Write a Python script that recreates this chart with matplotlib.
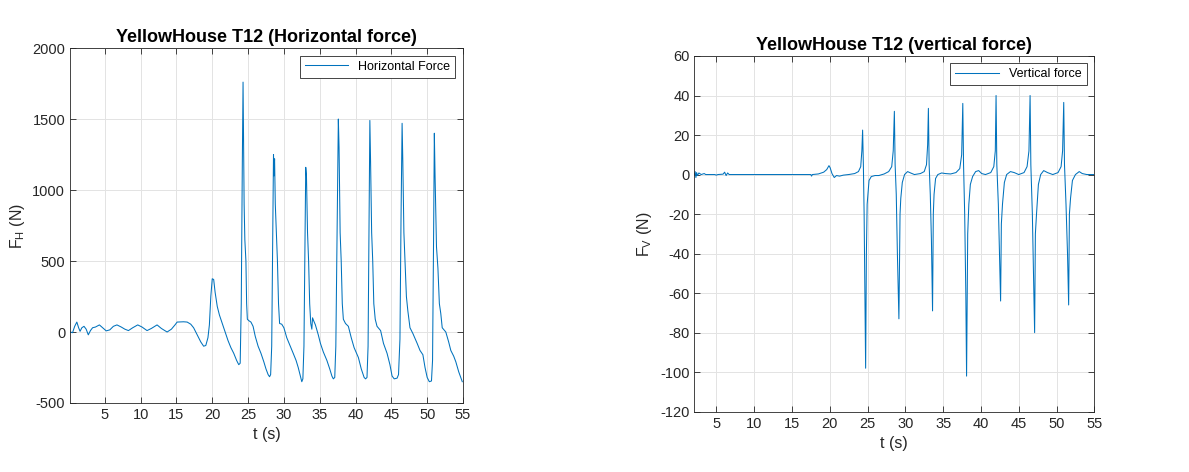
import matplotlib
matplotlib.use("Agg")
import matplotlib.pyplot as plt

# Horizontal force trace, t in s, F in N
h_time = [0.2, 0.5, 0.8, 1.1, 1.35, 1.55, 1.8, 2.1, 2.4, 2.7, 3.0, 3.3, 3.7, 4.25,
          4.7, 5.2, 5.7, 6.2, 6.7, 7.3, 7.8, 8.3, 8.9, 9.6, 10.2, 10.9, 11.5, 12.3,
          12.9, 13.7, 14.3, 14.8, 15.1, 16.0, 16.5, 17.0, 17.4, 17.9, 18.4, 18.8,
          19.1, 19.4, 19.6, 19.8, 20.0, 20.2, 20.4, 20.7, 21.0, 21.4, 21.8, 22.2,
          22.6, 23.0, 23.4, 23.7, 23.9, 24.05, 24.2, 24.3,
          24.35, 24.45, 24.55, 24.7, 24.8, 24.9, 25.1, 25.4, 25.7, 26.0, 26.4, 26.8,
          27.2, 27.5, 27.8, 28.0, 28.15, 28.3, 28.45, 28.55, 28.62, 28.7,
          28.8, 28.95, 29.1, 29.25, 29.4, 29.7, 30.0, 30.4, 30.9, 31.3, 31.7, 32.0,
          32.3, 32.5, 32.65, 32.8, 32.95, 33.05, 33.15,
          33.3, 33.45, 33.6, 33.75, 33.9, 34.0, 34.15, 34.4, 34.8, 35.1, 35.5, 36.0,
          36.4, 36.7, 36.9, 37.1, 37.25, 37.45, 37.6,
          37.7, 37.85, 38.0, 38.15, 38.3, 38.6, 39.0, 39.4, 39.8, 40.4, 40.8, 41.2,
          41.4, 41.6, 41.75, 41.9, 42.0,
          42.1, 42.25, 42.4, 42.55, 42.75, 43.0, 43.5, 43.9, 44.4, 44.8, 45.1, 45.4,
          45.8, 46.0, 46.2, 46.35, 46.5,
          46.6, 46.75, 46.9, 47.1, 47.3, 47.6, 48.0, 48.6, 49.0, 49.4, 49.7, 50.0,
          50.3, 50.6, 50.75, 50.9, 51.0,
          51.1, 51.3, 51.5, 51.7, 51.9, 52.1, 52.6, 53.0, 53.3, 53.7, 54.0, 54.4, 54.9]
h_force = [0, -5, 40, 70, 30, 5, 30, 40, 20, -20, 10, 30, 35, 50,
           30, 8, 15, 40, 50, 35, 20, 10, 30, 50, 35, 10, 25, 50,
           25, 0, 20, 50, 70, 72, 70, 55, 30, -20, -70, -100,
           -95, -40, 50, 250, 375, 370, 280, 180, 120, 60, 0, -60,
           -110, -150, -200, -230, -220, 200, 1200, 1760,
           1500, 900, 650, 500, 200, 90, 80, 70, 40, -30, -100, -150,
           -210, -260, -300, -315, -300, -100, 700, 1250, 1100, 1220,
           900, 700, 500, 200, 60, 55, 30, -40, -100, -150, -200, -250,
           -310, -350, -330, -100, 700, 1160, 1100,
           700, 500, 200, 60, 20, 100, 80, 50, -20, -80, -140, -200,
           -260, -310, -330, -320, -100, 800, 1500,
           1300, 700, 500, 200, 90, 60, 40, -40, -110, -180, -260, -320,
           -330, -320, -100, 900, 1490,
           1200, 700, 500, 200, 90, 40, 10, -80, -150, -230, -310, -330,
           -325, -300, -50, 800, 1470,
           1200, 700, 500, 250, 150, 30, -10, -80, -130, -160, -250, -320,
           -350, -345, -200, 700, 1400,
           1100, 600, 450, 200, 130, 30, 0, -70, -130, -170, -210, -280, -350]

# Vertical force trace
v_time = [2.1, 2.2, 2.3, 2.4, 2.5, 2.7, 3.0, 3.4, 3.6, 4.8, 5.0, 5.2, 5.9, 6.1,
          6.3, 6.5, 6.7, 17.5, 17.6, 17.7, 18.5, 19.2, 19.6, 19.9, 20.05, 20.3,
          20.6, 20.9, 21.3, 21.8, 22.5, 23.3, 23.8, 24.1, 24.25, 24.35,
          24.45, 24.55, 24.65, 24.75, 24.85, 24.95, 25.05, 25.2, 25.5, 26.0, 26.5,
          27.2, 27.8, 28.2, 28.4, 28.55,
          28.65, 28.8, 28.95, 29.15, 29.3, 29.4, 29.6, 29.9, 30.3, 30.7, 31.2,
          32.0, 32.5, 32.8, 32.95, 33.05,
          33.15, 33.3, 33.45, 33.6, 33.7, 33.8, 34.0, 34.3, 34.8, 35.3, 36.0,
          36.7, 37.2, 37.45, 37.6,
          37.7, 37.85, 38.0, 38.1, 38.25, 38.4, 38.6, 38.9, 39.3, 39.7, 40.1, 40.6,
          41.3, 41.7, 41.9, 42.0,
          42.1, 42.3, 42.45, 42.6, 42.7, 42.85, 43.1, 43.4, 43.9, 44.4, 45.0,
          45.7, 46.1, 46.35, 46.5,
          46.6, 46.8, 46.95, 47.1, 47.2, 47.35, 47.6, 47.9, 48.3, 48.8, 49.5,
          50.2, 50.6, 50.8, 50.95,
          51.05, 51.25, 51.45, 51.6, 51.7, 51.85, 52.1, 52.5, 53.0, 53.4, 54.0, 55.0]
v_force = [0, 1.5, -1.5, 1.0, -0.5, 0.8, 0, 0.5, 0, 0, -0.3, 0, 0.2, 1.2,
           -0.5, 0.8, 0, 0, -0.8, 0, 0.3, 1.2, 2.5, 4.5, 3.5, 0.5,
           -1.5, -0.5, -0.8, -0.3, 0, 0.5, 1.5, 4, 12, 22.5,
           5, -20, -60, -98, -40, -15, -10, -3, -1, -0.5, -0.5,
           0.3, 1.5, 4, 12, 32,
           5, -10, -40, -73, -20, -12, -4, 0, 1.5, 0.8, 0,
           0.5, 1.5, 5, 15, 33.5,
           5, -10, -33, -69, -20, -10, -2, 0, 0.8, 0.5, 0.3,
           1, 3, 10, 36,
           5, -20, -60, -102, -30, -15, -5, -1, 1.5, 2, 0.5, 0,
           1, 4, 12, 40,
           5, -15, -40, -64, -25, -15, -4, 0, 1.5, 1, 0,
           1, 4, 12, 40,
           5, -20, -50, -80, -30, -20, -5, 0, 2, 1, 0,
           1, 4, 12, 36.5,
           5, -15, -40, -66, -20, -12, -3, 0, 1.5, 0.5, 0, 0]

line_color = "#0072BD"
text_color = "#262626"

plt.rcParams["font.family"] = ["Liberation Sans", "DejaVu Sans"]
plt.rcParams["axes.unicode_minus"] = False

fig = plt.figure(figsize=(11.89, 4.72), dpi=100)
ax1 = fig.add_axes([0.0589, 0.1462, 0.3305, 0.752])
ax2 = fig.add_axes([0.584, 0.1278, 0.3364, 0.7536])


def style_axes(ax):
    ax.grid(True, color="#e3e3e3", linewidth=0.7)
    ax.set_axisbelow(True)
    ax.tick_params(direction="in", top=True, right=True, labelsize=10.5,
                   colors=text_color, length=4, width=0.6)
    for s in ax.spines.values():
        s.set_color(text_color)
        s.set_linewidth(0.6)


ax1.plot(h_time, h_force, color=line_color, linewidth=0.75, label="Horizontal Force")
ax1.set_xlim(0.15, 55)
ax1.set_ylim(-500, 2000)
ax1.set_xticks(range(5, 56, 5))
ax1.set_yticks(range(-500, 2001, 500))
ax1.set_title("YellowHouse T12 (Horizontal force)", fontsize=13, fontweight="bold", pad=4)
ax1.set_xlabel("t (s)", fontsize=11.5, color=text_color)
ax1.set_ylabel("F$_\\mathregular{H}$ (N)", fontsize=11.5, color=text_color)
style_axes(ax1)
leg1 = ax1.legend(loc="upper right", fontsize=9, fancybox=False, framealpha=1,
                  handlelength=3.5, borderaxespad=0.6)
leg1.get_frame().set_edgecolor(text_color)
leg1.get_frame().set_linewidth(0.6)

ax2.plot(v_time, v_force, color=line_color, linewidth=0.75, label="Vertical force")
ax2.set_xlim(2.1, 55)
ax2.set_ylim(-120, 60)
ax2.set_xticks(range(5, 56, 5))
ax2.set_yticks(range(-120, 61, 20))
ax2.set_title("YellowHouse T12 (vertical force)", fontsize=13, fontweight="bold", pad=4)
ax2.set_xlabel("t (s)", fontsize=11.5, color=text_color)
ax2.set_ylabel("F$_\\mathregular{V}$ (N)", fontsize=11.5, color=text_color)
style_axes(ax2)
leg2 = ax2.legend(loc="upper right", fontsize=9, fancybox=False, framealpha=1,
                  handlelength=3.5, borderaxespad=0.6)
leg2.get_frame().set_edgecolor(text_color)
leg2.get_frame().set_linewidth(0.6)

fig.savefig("out.png", dpi=100)
